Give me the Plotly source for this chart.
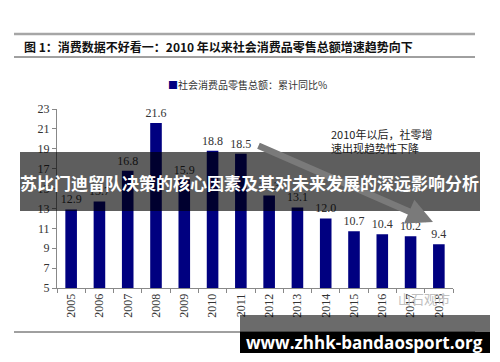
import plotly.graph_objects as go

years = ["2005", "2006", "2007", "2008", "2009", "2010", "2011",
         "2012", "2013", "2014", "2015", "2016", "2017", "2018"]
growth = [12.9, 13.7, 16.8, 21.6, 15.9, 18.8, 18.5,
          14.3, 13.1, 12.0, 10.7, 10.4, 10.2, 9.4]
y_ticks = [5, 7, 9, 11, 13, 15, 17, 19, 21, 23]
series_name = "社会消费品零售总额：累计同比%"

W, H = 500, 362
L, R, T, B = 57, 47, 109, 74
PW, PH = W - L - R, H - T - B


def px(x):
    return (x - L) / PW


def py(y):
    return (H - B - y) / PH


serif = "Liberation Serif, Times New Roman, serif"
cjk = "Noto Sans CJK SC"

fig = go.Figure()
fig.add_trace(go.Bar(
    x=years, y=growth, name=series_name,
    marker=dict(color="#000080", line=dict(width=0)),
    text=[f"{v:.1f}" for v in growth], textposition="outside",
    constraintext="none",
    textfont=dict(family=serif, size=12, color="#333333"),
    cliponaxis=False, showlegend=False,
))

shapes = [
    dict(type="line", xref="paper", yref="paper", x0=px(14), x1=px(475), y0=py(34), y1=py(34),
         line=dict(color="#a6a6a6", width=2.5)),
    dict(type="line", xref="paper", yref="paper", x0=px(14), x1=px(475), y0=py(57), y1=py(57),
         line=dict(color="#404040", width=1)),
    dict(type="line", xref="paper", yref="paper", x0=px(14), x1=px(475), y0=py(332), y1=py(332),
         line=dict(color="#404040", width=1)),
    dict(type="rect", xref="paper", yref="paper", x0=px(20), x1=px(480), y0=py(211), y1=py(152),
         fillcolor="rgba(0,0,0,0.63)", line=dict(width=0), layer="above"),
    dict(type="rect", xref="paper", yref="paper", x0=px(240), x1=px(490), y0=py(332), y1=py(315),
         fillcolor="rgba(0,0,0,0.58)", line=dict(width=0), layer="above"),
    dict(type="rect", xref="paper", yref="paper", x0=px(240), x1=px(490), y0=py(353), y1=py(332),
         fillcolor="#000000", line=dict(width=0), layer="above"),
]

annotations = [
    dict(text="<b>图 1：消费数据不好看一：2010 年以来社会消费品零售总额增速趋势向下</b>",
         xref="paper", yref="paper", x=px(22), y=py(46), xanchor="left", yanchor="middle",
         showarrow=False, font=dict(family=cjk, size=12, color="#111111")),
    dict(text=f"<span style='color:#000080'>■</span>{series_name}",
         xref="paper", yref="paper", x=px(247), y=py(85), xanchor="center", yanchor="middle",
         showarrow=False, font=dict(family=cjk, size=10, color="#333333")),
    dict(text="2010年以后，社零增<br>速出现趋势性下降",
         xref="paper", yref="paper", x=px(329), y=py(141), xanchor="left", yanchor="middle",
         showarrow=False, align="left", font=dict(family=cjk, size=11, color="#222222")),
    dict(text="", xref="paper", yref="paper", x=px(433), y=py(222),
         showarrow=True, ax=-176, ay=-77, arrowcolor="#7a7a7a", arrowwidth=6.5,
         arrowhead=2, arrowsize=0.8, standoff=0),
    dict(text="山石观市", xref="paper", yref="paper", x=px(452), y=py(310),
         showarrow=False, font=dict(family=cjk, size=13, color="#c0c0c0")),
    dict(text="<b>苏比门迪留队决策的核心因素及其对未来发展的深远影响分析</b>",
         xref="paper", yref="paper", x=px(249), y=py(182), xanchor="center", yanchor="middle",
         showarrow=False, font=dict(family=cjk, size=17, color="#ffffff")),
    dict(text="<b>www.zhhk-bandaosport.org</b>",
         xref="paper", yref="paper", x=px(364), y=py(342), xanchor="center", yanchor="middle",
         showarrow=False, font=dict(family="Open Sans, Noto Sans, sans-serif", size=17, color="#ffffff")),
]

fig.update_layout(
    width=W, height=H,
    margin=dict(l=L, r=R, t=T, b=B, pad=0),
    paper_bgcolor="#ffffff", plot_bgcolor="#ffffff",
    bargap=0.59,
    showlegend=False,
    xaxis=dict(type="category", tickangle=-90, tickson="boundaries", ticks="outside",
               ticklen=4, tickcolor="#888888", showline=True, linecolor="#888888",
               linewidth=1, showgrid=False,
               tickfont=dict(family=serif, size=12, color="#333333")),
    yaxis=dict(range=[5, 23], tickvals=y_ticks, ticks="outside", ticklen=4,
               tickcolor="#888888", showline=True, linecolor="#888888", linewidth=1,
               showgrid=False, zeroline=False,
               tickfont=dict(family=serif, size=12, color="#333333")),
    shapes=shapes,
    annotations=annotations,
)

fig.write_html("out.html")
